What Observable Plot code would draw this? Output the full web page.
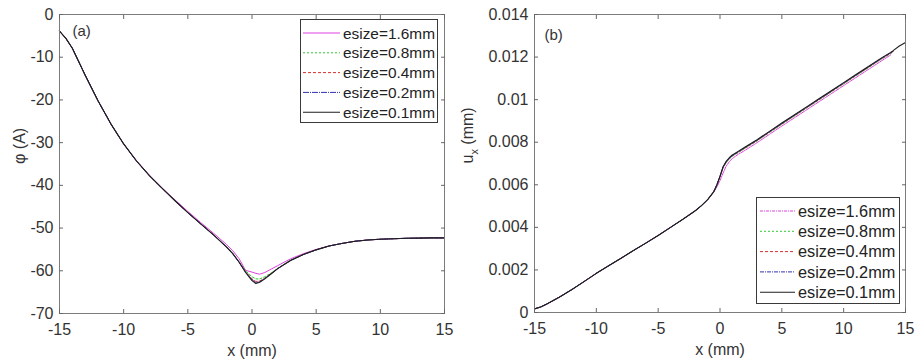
<!DOCTYPE html>
<html><head><meta charset="utf-8">
<script src="https://cdn.jsdelivr.net/npm/d3@7"></script>
<script src="https://cdn.jsdelivr.net/npm/@observablehq/plot@0.6"></script>
<style>
body{margin:0;background:#fff;}
#wrap{position:relative;width:917px;height:362px;font-family:"Liberation Sans",Arial,sans-serif;overflow:hidden;}
.panel{position:absolute;top:0;}
.legend{position:absolute;}
</style></head><body><div id="wrap"></div>
<script>
// ---------- data ----------
const seriesNames = ["esize=1.6mm","esize=0.8mm","esize=0.4mm","esize=0.2mm","esize=0.1mm"];
const seriesColors = ["#e040e0","#30c830","#d83030","#3030b0","#1e1e1e"];
const xTicks = [-15,-10,-5,0,5,10,15];
const xTickLabels = ["-15","-10","-5","0","5","10","15"];
const yTicksA = [-70,-60,-50,-40,-30,-20,-10,0];
const yTickLabelsA = ["-70","-60","-50","-40","-30","-20","-10","0"];
const yTicksB = [0,0.002,0.004,0.006,0.008,0.01,0.012,0.014];
const yTickLabelsB = ["0","0.002","0.004","0.006","0.008","0.01","0.012","0.014"];

// panel (a): phi (A)
const xA =    [-15,-14.5,-14,-13,-12,-11,-10,-9,-8,-7,-6,-5,-4,-3,-2,-1.5,-1,-0.5,0,0.3,0.6,1,1.5,2,3,4,5,6,7,8,9,10,11,12,13,14,15];
const phi16 = [-3.9,-5.6,-7.9,-14.2,-20.2,-25.6,-30.3,-34.2,-37.6,-40.6,-43.4,-46.1,-48.7,-51.2,-53.8,-55.3,-57.2,-59.9,-60.3,-60.6,-60.8,-60.4,-59.6,-58.8,-57.2,-56.0,-55.0,-54.2,-53.6,-53.1,-52.8,-52.6,-52.5,-52.4,-52.35,-52.3,-52.3];
const phi08 = [-3.9,-5.6,-7.9,-14.2,-20.2,-25.6,-30.3,-34.3,-37.7,-40.7,-43.6,-46.4,-49.0,-51.6,-54.3,-55.9,-57.9,-60.0,-61.4,-61.9,-61.9,-61.4,-60.5,-59.4,-57.5,-56.2,-55.1,-54.2,-53.6,-53.1,-52.8,-52.6,-52.5,-52.4,-52.35,-52.3,-52.3];
const phi04 = [-3.9,-5.6,-7.9,-14.2,-20.2,-25.6,-30.3,-34.3,-37.7,-40.7,-43.6,-46.4,-49.0,-51.6,-54.4,-56.0,-58.0,-60.2,-61.9,-62.5,-62.4,-61.7,-60.6,-59.5,-57.6,-56.2,-55.1,-54.2,-53.6,-53.1,-52.8,-52.6,-52.5,-52.4,-52.35,-52.3,-52.3];
const phi02 = [-3.9,-5.6,-7.9,-14.2,-20.2,-25.6,-30.3,-34.3,-37.7,-40.7,-43.6,-46.4,-49.0,-51.6,-54.4,-56.0,-58.0,-60.3,-62.1,-62.8,-62.6,-61.8,-60.7,-59.5,-57.6,-56.2,-55.1,-54.2,-53.6,-53.1,-52.8,-52.6,-52.5,-52.4,-52.35,-52.3,-52.3];
const phi01 = [-3.9,-5.6,-7.9,-14.2,-20.2,-25.6,-30.3,-34.3,-37.7,-40.7,-43.6,-46.4,-49.0,-51.6,-54.4,-56.0,-58.0,-60.4,-62.3,-63.0,-62.7,-61.9,-60.7,-59.5,-57.6,-56.2,-55.1,-54.2,-53.6,-53.1,-52.8,-52.6,-52.5,-52.4,-52.35,-52.3,-52.3];

// panel (b): u_x (mm)
const xB =   [-15,-14.5,-14,-13,-12,-11,-10,-9,-8,-7,-6,-5,-4,-3,-2,-1.5,-1,-0.5,-0.25,0,0.25,0.5,0.75,1,1.5,2,3,4,5,6,7,8,9,10,11,12,13,13.8,14,14.5,15];
const ux16 = [0.00017,0.00026,0.0004,0.00072,0.00107,0.00145,0.00184,0.0022,0.00255,0.00291,0.00326,0.00362,0.004,0.00438,0.00478,0.00502,0.0053,0.00566,0.0059,0.0062,0.00655,0.00688,0.00708,0.00724,0.00744,0.00761,0.00798,0.00837,0.00876,0.00914,0.00952,0.0099,0.01028,0.01066,0.01104,0.01142,0.0118,0.0121,null,null,null];
const ux08 = [0.00017,0.00026,0.0004,0.00072,0.00107,0.00145,0.00184,0.0022,0.00255,0.00291,0.00326,0.00362,0.004,0.00438,0.00478,0.00502,0.0053,0.00568,0.006,0.00636,0.0068,0.00704,0.00721,0.00734,0.00752,0.0077,0.00806,0.00845,0.00884,0.00922,0.0096,0.00998,0.01036,0.01074,0.01112,0.0115,0.01188,0.01216,0.01224,null,null];
const ux04 = [0.00017,0.00026,0.0004,0.00072,0.00107,0.00145,0.00184,0.0022,0.00255,0.00291,0.00326,0.00362,0.004,0.00438,0.00478,0.00502,0.0053,0.00568,0.006,0.00638,0.00682,0.00706,0.00723,0.00736,0.00754,0.00772,0.00808,0.00847,0.00886,0.00924,0.00962,0.01,0.01038,0.01076,0.01114,0.01152,0.0119,0.01218,0.01226,null,null];
const ux02 = [0.00017,0.00026,0.0004,0.00072,0.00107,0.00145,0.00184,0.0022,0.00255,0.00291,0.00326,0.00362,0.004,0.00438,0.00478,0.00502,0.0053,0.00568,0.006,0.00639,0.00684,0.00708,0.00725,0.00738,0.00756,0.00774,0.0081,0.00849,0.00888,0.00926,0.00964,0.01002,0.0104,0.01078,0.01116,0.01154,0.01192,0.0122,0.01228,null,null];
const ux01 = [0.00017,0.00026,0.0004,0.00072,0.00107,0.00145,0.00184,0.0022,0.00255,0.00291,0.00326,0.00362,0.004,0.00438,0.00478,0.00502,0.0053,0.00568,0.006,0.0064,0.00685,0.0071,0.00727,0.0074,0.00758,0.00776,0.00812,0.00851,0.0089,0.00928,0.00966,0.01004,0.01042,0.0108,0.01118,0.01156,0.01194,0.01222,0.0123,0.01252,0.01268];

// ---------- drawing ----------
const FRAME = "#7c7c7c", TICK = "#666", TEXT = "#333", FS = 16;
const wrap = d3.select("#wrap");

function makePanel(o) {
  const lines = o.values.map((vals, k) =>
    Plot.line(o.x.map((xv, i) => [xv, vals[i]]), {
      stroke: seriesColors[k], strokeWidth: k === 4 ? 1.1 : 1,
      strokeDasharray: o.dashes[k]
    }));
  const fmtX = d => xTickLabels[xTicks.indexOf(d)];
  const fmtY = d => o.yLabels[o.yTicks.findIndex(t => Math.abs(t - d) < 1e-9)];
  const chart = Plot.plot({
    width: o.width, height: 362,
    marginLeft: o.ml, marginRight: o.mr, marginTop: 14, marginBottom: o.mb,
    style: {fontFamily: '"Liberation Sans", Arial, sans-serif', fontSize: FS + "px", color: TEXT, background: "transparent", overflow: "visible"},
    x: {domain: [-15, 15], nice: false},
    y: {domain: o.yDomain, nice: false},
    marks: [
      ...lines,
      Plot.frame({stroke: FRAME, strokeWidth: 1}),
      Plot.axisX(xTicks, {anchor: "bottom", tickSize: 0, tickPadding: 10, tickFormat: fmtX, label: null, fill: TEXT, fontSize: FS}),
      Plot.axisX(xTicks, {anchor: "bottom", tickSize: -4, tickFormat: () => "", label: null, stroke: TICK}),
      Plot.axisX(xTicks, {anchor: "top", tickSize: -4, tickFormat: () => "", label: null, stroke: TICK}),
      Plot.axisY(o.yTicks, {anchor: "left", tickSize: 0, tickPadding: 6, tickFormat: fmtY, label: null, fill: TEXT, fontSize: FS}),
      Plot.axisY(o.yTicks, {anchor: "left", tickSize: -4, tickFormat: () => "", label: null, stroke: TICK}),
      Plot.axisY(o.yTicks, {anchor: "right", tickSize: -4, tickFormat: () => "", label: null, stroke: TICK}),
      Plot.text(["x (mm)"], {frameAnchor: "bottom", text: d => d, dy: 37, lineAnchor: "middle", fill: TEXT, fontSize: FS}),
      Plot.text([o.ylabel], {frameAnchor: "left", text: d => d, rotate: -90, dx: -o.ylOff, lineAnchor: "middle", fill: TEXT, fontSize: FS}),
      Plot.text([o.tag], {frameAnchor: "top-left", text: d => d, dx: o.tagDx, dy: o.tagDy, textAnchor: "start", lineAnchor: "middle", fill: TEXT, fontSize: 15})
    ]
  });
  const div = wrap.append("div").attr("class", "panel").style("left", o.left + "px");
  div.node().appendChild(chart);
  return chart;
}

function makeLegend(o) {
  const svg = wrap.append("svg").attr("class", "legend")
    .attr("width", o.w + 2).attr("height", o.h + 2)
    .style("left", (o.left - 1) + "px").style("top", (o.top - 1) + "px");
  svg.append("rect").attr("x", 1.5).attr("y", 1.5).attr("width", o.w - 1).attr("height", o.h - 1)
    .attr("fill", "#fff").attr("stroke", "#3a3a3a").attr("stroke-width", 1);
  seriesNames.forEach((name, k) => {
    const cy = 1 + o.first + k * o.step;
    svg.append("line").attr("x1", 1 + o.lx1).attr("x2", 1 + o.lx2).attr("y1", cy).attr("y2", cy)
      .attr("stroke", seriesColors[k]).attr("stroke-width", k === 4 ? 1.1 : 1)
      .attr("stroke-dasharray", o.dashes[k]);
    svg.append("text").attr("x", 1 + o.tx).attr("y", cy).attr("dy", "0.36em")
      .attr("fill", "#222").style("font-size", o.fs + "px")
      .style("font-family", '"Liberation Sans", Arial, sans-serif').text(name);
  });
}

const dashesA = [null, "2,2", "3,2", "6,1,1,1", null];
const dashesB = ["3,1,1,1", "2,2", "3,2", "4,1,1,1", null];

makePanel({left: 0, width: 458, ml: 59, mr: 14, mb: 49, x: xA,
  values: [phi16, phi08, phi04, phi02, phi01], dashes: dashesA,
  yDomain: [-70, 0], yTicks: yTicksA, yLabels: yTickLabelsA,
  ylabel: "φ (A)", ylOff: 40, tag: "(a)", tagDx: 13, tagDy: 17});

const chartB = makePanel({left: 458, width: 459, ml: 76, mr: 12, mb: 50, x: xB,
  values: [ux16, ux08, ux04, ux02, ux01], dashes: dashesB,
  yDomain: [0, 0.014], yTicks: yTicksB, yLabels: yTickLabelsB,
  ylabel: "ux (mm)", ylOff: 67, tag: "(b)", tagDx: 10, tagDy: 21});

// subscript x in u_x
d3.select(chartB).selectAll("text").filter(function() { return this.textContent === "ux (mm)"; })
  .each(function() {
    const t = d3.select(this);
    t.text(null);
    t.append("tspan").text("u");
    t.append("tspan").attr("dy", "5").style("font-size", "11px").text("x");
    t.append("tspan").attr("dy", "-5").text(" (mm)");
  });

makeLegend({left: 300, top: 19, w: 138, h: 104, first: 14, step: 19.8, lx1: 3, lx2: 40, tx: 43, fs: 15.4, dashes: dashesA});
makeLegend({left: 756, top: 197, w: 144, h: 107, first: 14, step: 20.3, lx1: 4, lx2: 39, tx: 42, fs: 16.3, dashes: dashesB});
</script></body></html>
